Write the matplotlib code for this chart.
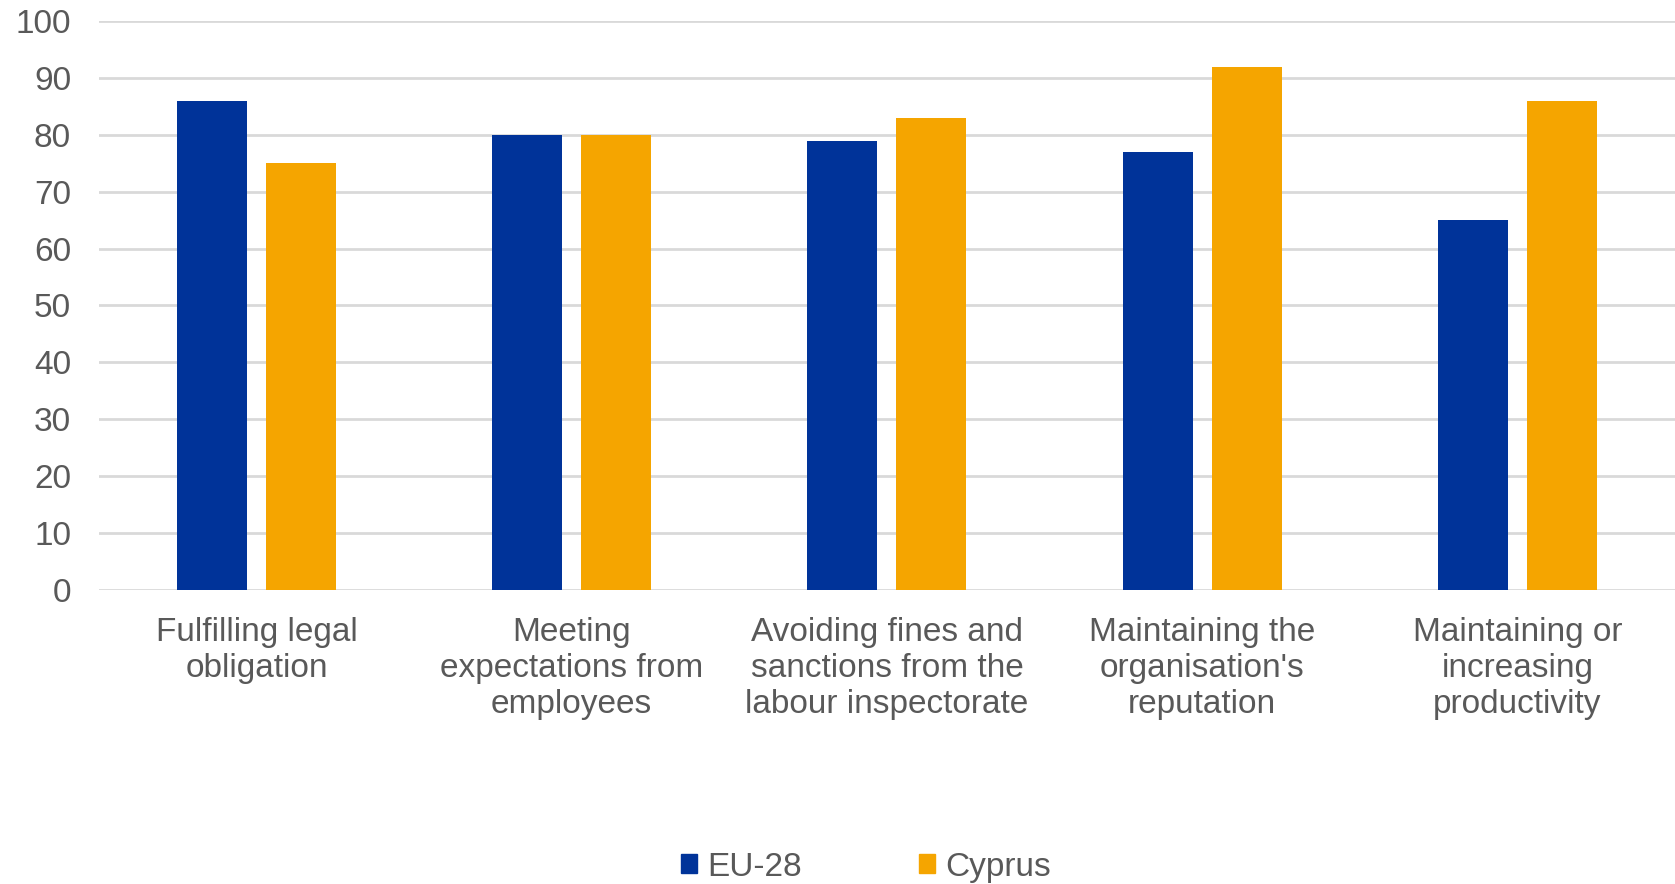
import matplotlib.pyplot as plt
import numpy as np
from matplotlib.patches import Patch

plt.rcParams['font.family'] = ['Liberation Sans', 'DejaVu Sans']

categories = [
    "Fulfilling legal\nobligation",
    "Meeting\nexpectations from\nemployees",
    "Avoiding fines and\nsanctions from the\nlabour inspectorate",
    "Maintaining the\norganisation's\nreputation",
    "Maintaining or\nincreasing\nproductivity",
]
eu28 = [86, 80, 79, 77, 65]
cyprus = [75, 80, 83, 92, 86]
yticks = list(range(0, 101, 10))

blue = '#003399'
orange = '#f5a500'
text_col = '#595959'

fig = plt.figure(figsize=(16.75, 8.84), dpi=100)
ax = fig.add_axes([0.059, 0.333, 0.941, 0.643])

x = np.arange(len(categories))
w = 0.222
off = 0.141
ax.bar(x - off, eu28, width=w, color=blue, zorder=3)
ax.bar(x + off, cyprus, width=w, color=orange, zorder=3)

ax.set_xlim(-0.5, len(categories) - 0.5)
ax.set_ylim(0, 100)
ax.set_yticks(yticks)
ax.yaxis.grid(True, color='#d9d9d9', linewidth=2, zorder=0)
ax.set_axisbelow(True)
for s in ax.spines.values():
    s.set_visible(False)
ax.tick_params(axis='both', length=0, labelsize=24, labelcolor=text_col)
ax.tick_params(axis='y', pad=20)
ax.tick_params(axis='x', pad=20)
ax.set_xticks(x)
ax.set_xticklabels(categories, linespacing=1.2, ha='center')

handles = [Patch(color=blue, label='EU-28'), Patch(color=orange, label='Cyprus')]
leg = fig.legend(handles=handles, loc='center', bbox_to_anchor=(0.517, 0.019), ncol=2,
                 frameon=False, fontsize=24, handlelength=0.5, handleheight=0.5,
                 handletextpad=0.3, columnspacing=3.5)
for t in leg.get_texts():
    t.set_color(text_col)

fig.savefig('out.png', dpi=100)
